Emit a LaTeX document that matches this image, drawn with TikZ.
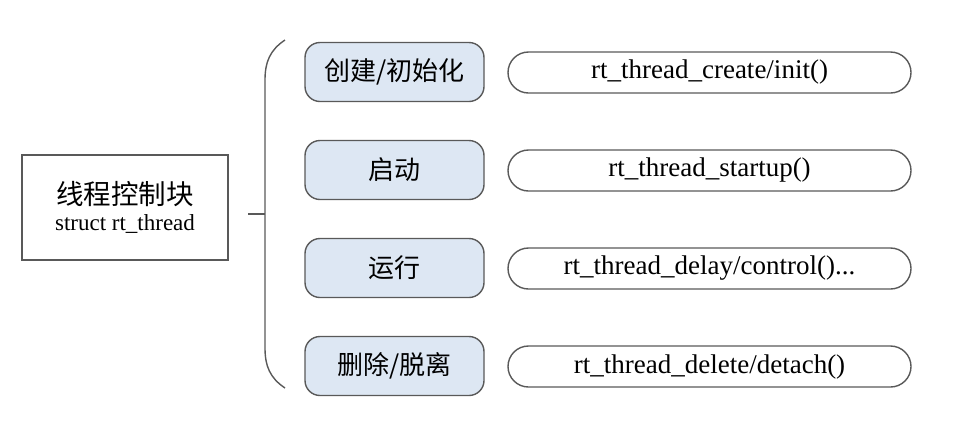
\documentclass[tikz,border=0pt]{standalone}
\usepackage{fontspec}
\setmainfont{Liberation Serif}
\newfontfamily\cjk{Noto Sans CJK SC}
\usepackage{tikz}
\usetikzlibrary{positioning}
\definecolor{stagefill}{HTML}{DDE7F3}

\begin{document}
\begin{tikzpicture}[x=1pt,y=-1pt]
			\tikzstyle{Line}	= [draw=black!65, line width=1.4pt]
			\tikzstyle{Block}	= [Line, fill=white, minimum width=206pt, minimum height=105pt, inner sep=0pt, align=center]
			\tikzstyle{Stage}	= [Line, fill=stagefill, rounded corners=15pt, minimum width=179pt, minimum height=59pt, inner sep=0pt, font=\cjk\fontsize{26}{30}\selectfont]
			\tikzstyle{Call}	= [Line, rounded corners=20.5pt, minimum width=403pt, minimum height=41pt, inner sep=0pt, font=\fontsize{27}{30}\selectfont]

			\useasboundingbox (0,0) rectangle (970,432);

			\node (tcb) at (125,207.5) [Block] {{\cjk\fontsize{27.5}{30}\selectfont 线程控制块}\\[6pt] {\fontsize{23}{24}\selectfont struct rt\_thread}};

			\node (s1) at (394.5,72)  [Stage] {创建/初始化};
			\node (s2) at (394.5,170) [Stage] {启动};
			\node (s3) at (394.5,268) [Stage] {运行};
			\node (s4) at (394.5,366) [Stage] {删除/脱离};

			\node (c1) at (709.5,72.5)  [Call] {rt\_thread\_create/init()};
			\node (c2) at (709.5,170.5) [Call] {rt\_thread\_startup()};
			\node (c3) at (709.5,268.5) [Call] {rt\_thread\_delay/control()...};
			\node (c4) at (709.5,366.5) [Call] {rt\_thread\_delete/detach()};

			\coordinate (stub) at (248,214);
			\coordinate (mid)  at (265,214);
			\coordinate (top)  at (285,40);
			\coordinate (bot)  at (285,388);

			% brace
			\draw [Line] (top) .. controls (270,50) and (265,62) .. (265,80) -- (265,348) .. controls (265,366) and (270,378) .. (bot);
			\draw [Line] (stub) -- (mid);
		\end{tikzpicture}
\end{document}
